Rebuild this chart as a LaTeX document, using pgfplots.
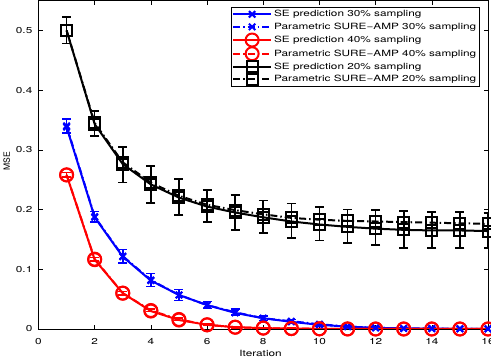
\documentclass[border=0pt]{standalone}
\usepackage{fontspec}
\setmainfont{TeX Gyre Heros}
\newfontfamily\widefont{TeX Gyre Heros}[FakeStretch=1.37]
\usepackage{pgfplots}
\pgfplotsset{compat=1.18}
\newcommand\f{\widefont\fontsize{8.6bp}{10bp}\selectfont}
\begin{document}
\begin{tikzpicture}
\useasboundingbox (-38.5bp,-30bp) rectangle (452.5bp,329bp);
\begin{axis}[
    scale only axis,
    width=449.5bp, height=328.5bp,
    xmin=0, xmax=16, ymin=0, ymax=0.55,
    xtick={0,2,...,16},
    ytick={0,0.1,0.2,0.3,0.4,0.5},
    yticklabels={0,0.1,0.2,0.3,0.4,0.5},
    tick align=inside,
    major tick length=4bp,
    axis line style={line width=0.6bp},
    every tick/.style={black, line width=0.5bp},
    /pgf/number format/assume math mode=true,
    ticklabel style={font=\f},
    xticklabel style={anchor=base, yshift=-15bp},
    yticklabel style={inner xsep=0pt, xshift=-6bp},
    xlabel={Iteration},
    ylabel={\fontsize{8.6bp}{10bp}\selectfont MSE},
    xlabel style={font=\f, at={(axis description cs:0.494,-0.0852)}, anchor=base},
    ylabel style={at={(axis description cs:-0.0707,0.51)}, anchor=center},
    legend style={font=\f, at={(0.428,0.980)}, anchor=north west,
      draw=black, line width=0.5bp, fill=white, inner sep=1bp, row sep=0.7bp,
      cells={anchor=west}},
    legend image code/.code={\draw[mark repeat=2,mark phase=2,#1]
      plot coordinates {(0bp,0bp) (19bp,0bp) (38bp,0bp)};},
    every axis plot/.append style={line width=2bp},
    error bars/error bar style={line width=1.6bp, solid},
    error bars/error mark options={line width=1.6bp, mark size=4.5bp, rotate=90},
  ]
  % 30% sampling
  \addplot[blue, mark=x, mark size=4.5bp, mark options={solid}] coordinates {
    (1,0.338) (2,0.187) (3,0.121) (4,0.081) (5,0.057) (6,0.040) (7,0.027) (8,0.018)
    (9,0.012) (10,0.007) (11,0.004) (12,0.002) (13,0.001) (14,0.0005) (15,0.0003) (16,0.0002)};
  \addplot[blue, mark=x, mark size=4.5bp, mark options={solid},
    dash pattern=on 7bp off 3bp on 1.5bp off 3bp,
    error bars/.cd, y dir=both, y explicit] coordinates {
    (1,0.340) +- (0,0.012) (2,0.188) +- (0,0.009) (3,0.122) +- (0,0.011) (4,0.082) +- (0,0.011)
    (5,0.057) +- (0,0.009) (6,0.040) +- (0,0.006) (7,0.028) +- (0,0.005) (8,0.018) +- (0,0.004)
    (9,0.013) +- (0,0.003) (10,0.008) +- (0,0.003) (11,0.004) +- (0,0.002) (12,0.002) +- (0,0.001)
    (13,0.001) +- (0,0.001) (14,0.001) +- (0,0.001) (15,0.0005) +- (0,0.0005) (16,0.0003) +- (0,0.0003)};
  % 40% sampling
  \addplot[red, mark=o, mark size=6.5bp, mark options={solid}] coordinates {
    (1,0.258) (2,0.116) (3,0.060) (4,0.030) (5,0.015) (6,0.007) (7,0.003) (8,0.0015)
    (9,0.0007) (10,0.0003) (11,0.0001) (12,0) (13,0) (14,0) (15,0) (16,0)};
  \addplot[red, mark=o, mark size=6.5bp, mark options={solid},
    dash pattern=on 7bp off 3bp on 1.5bp off 3bp,
    error bars/.cd, y dir=both, y explicit] coordinates {
    (1,0.258) +- (0,0.004) (2,0.117) +- (0,0.003) (3,0.060) +- (0,0.003) (4,0.031) +- (0,0.002)
    (5,0.016) +- (0,0.002) (6,0.007) +- (0,0.001) (7,0.003) +- (0,0.001) (8,0.0015) +- (0,0.001)
    (9,0.0007) +- (0,0.0005) (10,0.0003) +- (0,0.0003) (11,0.0001) +- (0,0.0001) (12,0) +- (0,0)
    (13,0) +- (0,0) (14,0) +- (0,0) (15,0) +- (0,0) (16,0) +- (0,0)};
  % 20% sampling
  \addplot[black, mark=square, mark size=5.5bp, mark options={solid}] coordinates {
    (1,0.500) (2,0.343) (3,0.276) (4,0.242) (5,0.220) (6,0.205) (7,0.195) (8,0.187)
    (9,0.180) (10,0.175) (11,0.171) (12,0.168) (13,0.166) (14,0.165) (15,0.165) (16,0.164)};
  \addplot[black, mark=square, mark size=5.5bp, mark options={solid},
    dash pattern=on 7bp off 3bp on 1.5bp off 3bp,
    error bars/.cd, y dir=both, y explicit] coordinates {
    (1,0.500) += (0,0.022) -= (0,0.022)
    (2,0.345) += (0,0.020) -= (0,0.022)
    (3,0.279) += (0,0.026) -= (0,0.034)
    (4,0.245) += (0,0.028) -= (0,0.034)
    (5,0.223) += (0,0.028) -= (0,0.032)
    (6,0.208) += (0,0.025) -= (0,0.029)
    (7,0.199) += (0,0.025) -= (0,0.033)
    (8,0.192) += (0,0.023) -= (0,0.031)
    (9,0.186) += (0,0.024) -= (0,0.034)
    (10,0.183) += (0,0.021) -= (0,0.035)
    (11,0.181) += (0,0.019) -= (0,0.037)
    (12,0.180) += (0,0.019) -= (0,0.039)
    (13,0.179) += (0,0.019) -= (0,0.043)
    (14,0.178) += (0,0.018) -= (0,0.042)
    (15,0.177) += (0,0.019) -= (0,0.041)
    (16,0.176) += (0,0.018) -= (0,0.040)};
  \legend{SE prediction 30\% sampling, Parametric SURE−AMP 30\% sampling,
    SE prediction 40\% sampling, Parametric SURE−AMP 40\% sampling,
    SE prediction 20\% sampling, Parametric SURE−AMP 20\% sampling}
\end{axis}
\end{tikzpicture}
\end{document}
